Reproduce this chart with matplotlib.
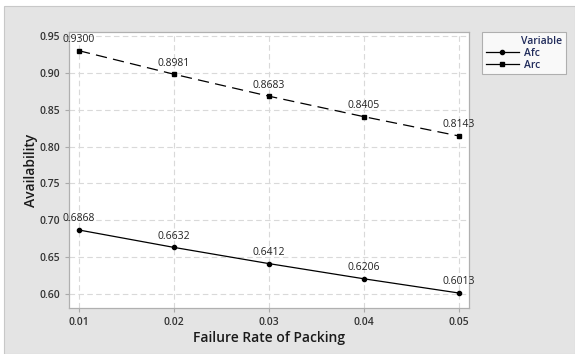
"""Availability vs failure rate of packing (Minitab-style line plot)."""

import matplotlib
matplotlib.use("Agg")
import matplotlib.pyplot as plt
from matplotlib.patches import Rectangle

# Data
failure_rate = [0.01, 0.02, 0.03, 0.04, 0.05]
afc = [0.6868, 0.6632, 0.6412, 0.6206, 0.6013]
arc = [0.9300, 0.8981, 0.8683, 0.8405, 0.8143]
y_ticks = [0.60, 0.65, 0.70, 0.75, 0.80, 0.85, 0.90, 0.95]

W, H = 575, 354
BG = "#e4e4e4"
GRID = "#d9d9d9"
plt.rcParams["font.family"] = ["Open Sans", "DejaVu Sans"]

fig = plt.figure(figsize=(W / 100, H / 100), dpi=100, facecolor="white")
# grey panel with thin white margin at top/left
fig.patches.append(Rectangle((4 / W, 0), 1 - 4 / W, 1 - 6 / H,
                             transform=fig.transFigure, facecolor=BG,
                             edgecolor="#c8c8c8", lw=0.8, zorder=-1))

ax = fig.add_axes([69 / W, 1 - 308 / H, (469 - 69) / W, (308 - 32) / H])
ax.set_facecolor("white")

ax.plot(failure_rate, afc, color="black", lw=0.9, marker="o", ms=3,
        label="Afc")
ax.plot(failure_rate, arc, color="black", lw=0.9, ls=(0, (9, 5)),
        marker="s", ms=3.5, label="Arc")

for x, y in zip(failure_rate, afc):
    ax.annotate(f"{y:.4f}", (x, y), xytext=(0, 4), textcoords="offset points",
                ha="center", va="bottom", fontsize=7.5, color="#222222")
for x, y in zip(failure_rate, arc):
    ax.annotate(f"{y:.4f}", (x, y), xytext=(0, 4), textcoords="offset points",
                ha="center", va="bottom", fontsize=7.5, color="#222222")

ax.set_xlim(0.00895, 0.05105)
ax.set_ylim(0.581, 0.9554)
ax.set_xticks(failure_rate)
ax.set_xticklabels([f"{v:.2f}" for v in failure_rate])
ax.set_yticks(y_ticks)
ax.set_yticklabels([f"{v:.2f}" for v in y_ticks])
ax.tick_params(labelsize=7.5, colors="#333333", length=3, color="#aaaaaa")
for lbl in ax.get_xticklabels() + ax.get_yticklabels():
    lbl.set_fontweight("semibold")
ax.grid(True, color=GRID, ls=(0, (5, 3)), lw=0.8)
ax.set_axisbelow(True)
for s in ax.spines.values():
    s.set_color("#b0b0b0")
    s.set_linewidth(0.9)

ax.set_xlabel("Failure Rate of Packing", fontsize=10, color="#1a1a1a",
              fontweight="semibold", labelpad=2)
ax.set_ylabel("Availability", fontsize=10, color="#1a1a1a",
              fontweight="semibold", labelpad=1)

leg = fig.legend(loc="upper left", bbox_to_anchor=(482 / W, 1 - 32 / H),
                 title="Variable", fontsize=7.5, title_fontsize=7.5,
                 frameon=True, fancybox=False, handlelength=3.2,
                 borderpad=0.35, labelspacing=0.1, handletextpad=0.5,
                 borderaxespad=0, alignment="right")
leg.get_frame().set_edgecolor("#a0a0a0")
leg.get_frame().set_linewidth(0.8)
for h in leg.legend_handles:
    h.set_linestyle("-")
leg.get_title().set_color("#1f2a5a")
leg.get_title().set_fontweight("semibold")
for t in leg.get_texts():
    t.set_color("#1f2a5a")
    t.set_fontweight("semibold")
    t.set_text(t.get_text() + "        ")

fig.savefig("out.png", dpi=100, facecolor=fig.get_facecolor())
